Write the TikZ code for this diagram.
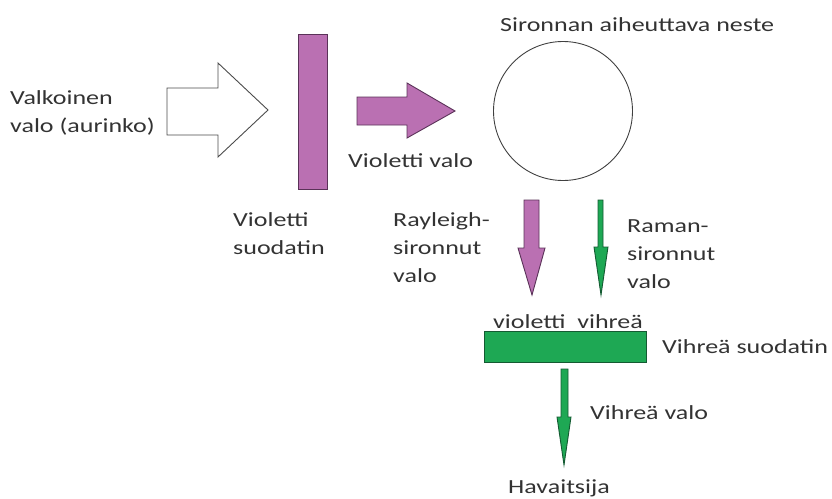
\documentclass[tikz,border=0pt]{standalone}
\usepackage{fontspec}
\setmainfont[FakeStretch=1.3]{Carlito}
\usetikzlibrary{positioning}

\definecolor{violetfill}{RGB}{186,112,178}
\definecolor{violetline}{RGB}{90,50,88}
\definecolor{greenfill}{RGB}{30,168,84}
\definecolor{greenline}{RGB}{20,90,50}

\tikzset{
  lbl/.style={font=\fontsize{20}{28}\selectfont, text=black!80, inner sep=0pt, align=left},
  violetblock/.style={fill=violetfill, draw=violetline, line width=0.9pt},
  greenblock/.style={fill=greenfill, draw=greenline, line width=0.9pt},
  whiteblock/.style={fill=white, draw=black!70, line width=0.9pt}
}

\begin{document}
\begin{tikzpicture}[x=1pt, y=-1pt]
    \useasboundingbox (0,0) rectangle (832,498);

    % White light arrow
    \draw[whiteblock] (167,88) -- (218,88) -- (218,63) -- (268,110) -- (218,157)
        -- (218,135) -- (167,135) -- cycle;
    \node[lbl, anchor=west] (white) at (10,113) {Valkoinen\\valo (aurinko)};

    % Violet filter
    \draw[violetblock] (298,34) rectangle (327,189);
    \node[lbl, anchor=west] (vfilter) at (233,234) {Violetti\\suodatin};

    % Violet light arrow
    \draw[violetblock] (357,97) -- (407,97) -- (407,83) -- (455,111) -- (407,138)
        -- (407,125) -- (357,125) -- cycle;
    \node[lbl, anchor=west] (vlight) at (348,161) {Violetti valo};

    % Scattering liquid
    \node[draw=black!75, line width=0.9pt, circle, minimum size=139pt] (liquid) at (563,111) {};
    \node[lbl, anchor=west] (liquidlbl) at (500,25) {Sironnan aiheuttava neste};

    % Rayleigh scattered light
    \draw[violetblock] (524,200) -- (539,200) -- (539,248) -- (545,248) -- (532,295)
        -- (518,248) -- (524,248) -- cycle;
    \node[lbl, anchor=west] (rayleigh) at (393,248) {Rayleigh-\\sironnut\\valo};

    % Raman scattered light
    \draw[greenblock] (598,200) -- (603,200) -- (603,247) -- (608,247) -- (601,295)
        -- (594,247) -- (598,247) -- cycle;
    \node[lbl, anchor=west] (raman) at (627,254) {Raman-\\sironnut\\valo};

    % Green filter
    \node[lbl, anchor=west] (colours) at (493,322) {violetti\ \ vihreä};
    \draw[greenblock] (484,331) rectangle (646,362);
    \node[lbl, anchor=west] (gfilter) at (662,347) {Vihreä suodatin};

    % Green light to observer
    \draw[greenblock] (561,369) -- (568,369) -- (568,417) -- (571,417) -- (564,465)
        -- (557,417) -- (561,417) -- cycle;
    \node[lbl, anchor=west] (glight) at (590,413) {Vihreä valo};
    \node[lbl] (observer) at (559,488) {Havaitsija};
\end{tikzpicture}
\end{document}
